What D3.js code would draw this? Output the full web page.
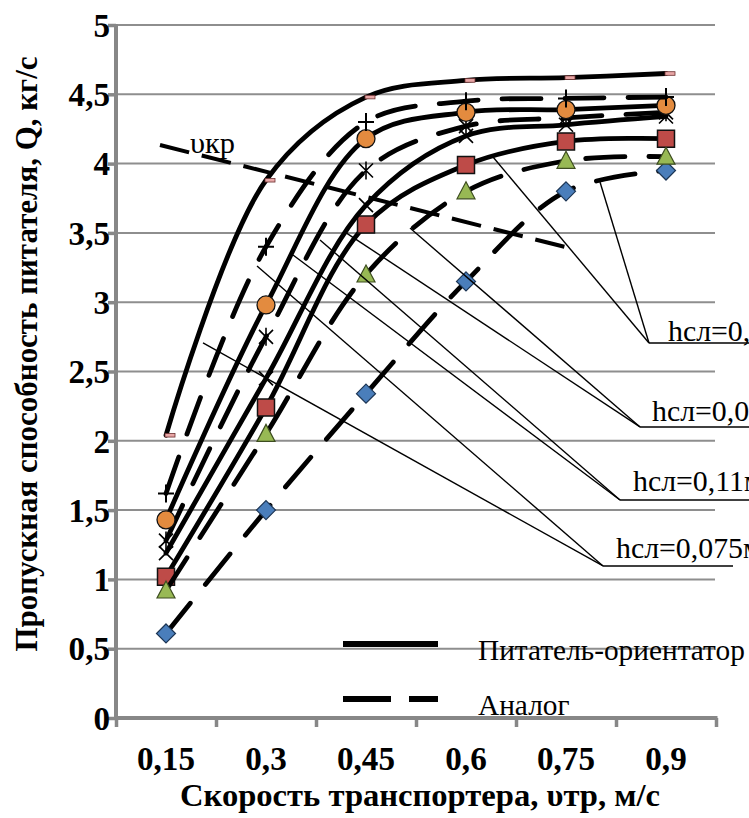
<!DOCTYPE html>
<html><head><meta charset="utf-8">
<script src="https://cdn.jsdelivr.net/npm/d3@7"></script>
<style>
html,body{margin:0;padding:0;background:#fff;overflow:hidden}
svg{display:block}
</style></head><body>
<svg id="chart" width="749" height="818"></svg>
<script>
// ---------- data ----------
const categories = [0.15, 0.3, 0.45, 0.6, 0.75, 0.9];
const categoryLabels = ["0,15", "0,3", "0,45", "0,6", "0,75", "0,9"];
const yTickValues = [0, 0.5, 1, 1.5, 2, 2.5, 3, 3.5, 4, 4.5, 5];
const yTickLabels = ["0", "0,5", "1", "1,5", "2", "2,5", "3", "3,5", "4", "4,5", "5"];

const valuesDiamond  = [0.61, 1.50, 2.34, 3.15, 3.80, 3.95];   // Аналог
const valuesSquare   = [1.02, 2.24, 3.56, 3.99, 4.16, 4.18];   // Питатель-ориентатор
const valuesTriangle = [0.92, 2.05, 3.20, 3.80, 4.02, 4.05];   // Аналог
const valuesCross    = [1.19, 2.45, 3.70, 4.20, 4.28, 4.34];   // Питатель-ориентатор
const valuesStar     = [1.28, 2.75, 3.95, 4.27, 4.33, 4.37];   // Аналог
const valuesCircle   = [1.43, 2.98, 4.18, 4.37, 4.39, 4.42];   // Питатель-ориентатор
const valuesPlus     = [1.62, 3.40, 4.30, 4.45, 4.47, 4.48];   // Аналог
const valuesDash     = [2.04, 3.88, 4.48, 4.60, 4.62, 4.65];   // Питатель-ориентатор

const legendLabels = ["Питатель-ориентатор", "Аналог"];
const xTitle = "Скорость транспортера, υтр, м/с";
const yTitle = "Пропускная способность питателя, Q, кг/с";

// critical speed line (υкр)
const critLabel = "υкр";
const critLineX = [0.141, 0.7605];
const critLineY = [4.134, 3.384];
const critLabelPos = [0.186, 4.076];

// callouts
const calloutTexts = ["hсл=0,15м", "hсл=0,09м", "hсл=0,11м", "hсл=0,075м"];
const calloutAnchorX = [0.8745, 0.861, 0.831, 0.8055];
const calloutAnchorY = [2.706, 2.100, 1.573, 1.097];
const calloutTargets = [
  [[0.6405, 4.048], [0.801, 3.867]],
  [[0.516, 3.535], [0.4185, 3.506]],
  [[0.381, 3.449], [0.3405, 3.341]],
  [[0.2865, 3.261], [0.2055, 2.706]]
];

// ---------- layout ----------
const W = 749, H = 818;
const plotLeft = 116, plotRight = 716, plotTop = 25, plotBottom = 718;
const FONT = '"Liberation Serif", "Times New Roman", Times, "DejaVu Serif", serif';
const calloutDx = [19, 12, 13, 13];
const calloutDy = [-2, -6, -9, -8];
const svg = d3.select("#chart");

// measure helper: font size so that a string reaches a target width
function fitSize(str, weight, targetW) {
  const t = svg.append("text").attr("font-family", FONT).attr("font-size", 100)
    .attr("font-weight", weight).text(str);
  const w = t.node().getComputedTextLength();
  t.remove();
  return w > 0 ? 100 * targetW / w : 30;
}
const tickSize = fitSize("0,45", "bold", 58);
const legendSize = fitSize("Питатель-ориентатор", "normal", 267);
const calloutSize = fitSize("hсл=0,075", "normal", 127);
const critSize = fitSize(critLabel, "normal", 45);

const x = d3.scaleLinear().domain([0.075, 0.975]).range([plotLeft, plotRight]);
const y = d3.scaleLinear().domain([0, 5]).range([plotBottom, plotTop]);

const gridColor = "#8e8e8e", axisColor = "#878787";

// gridlines
svg.append("g").selectAll("line").data(yTickValues.filter(v => v > 0)).join("line")
  .attr("x1", plotLeft).attr("x2", plotRight - 1)
  .attr("y1", d => y(d)).attr("y2", d => y(d))
  .attr("stroke", gridColor).attr("stroke-width", 2);

// y axis
const yAxis = d3.axisLeft(y).tickValues(yTickValues).tickSize(8)
  .tickFormat((d, i) => yTickLabels[i]);
const gy = svg.append("g").attr("transform", `translate(${plotLeft},0)`).call(yAxis);
gy.select(".domain").remove();
gy.selectAll(".tick line").attr("stroke", axisColor).attr("stroke-width", 3.5);
gy.selectAll(".tick text").attr("x", -6).attr("dy", "0.34em")
  .attr("font-family", FONT).attr("font-size", tickSize).attr("font-weight", "bold").attr("fill", "#000");
svg.append("line").attr("x1", plotLeft).attr("x2", plotLeft)
  .attr("y1", plotTop - 1).attr("y2", plotBottom + 1.5)
  .attr("stroke", axisColor).attr("stroke-width", 4);

// x axis: tick marks on category boundaries, labels at categories
const boundaries = d3.range(categories.length + 1).map(i => 0.075 + i * 0.15);
const xAxis = d3.axisBottom(x).tickValues(boundaries).tickSize(9).tickFormat("");
const gx = svg.append("g").attr("transform", `translate(0,${plotBottom})`).call(xAxis);
gx.select(".domain").remove();
gx.selectAll(".tick line").attr("stroke", axisColor).attr("stroke-width", 3.5);
svg.append("line").attr("x1", plotLeft - 2).attr("x2", plotRight + 1.5)
  .attr("y1", plotBottom).attr("y2", plotBottom)
  .attr("stroke", axisColor).attr("stroke-width", 4);
svg.append("g").selectAll("text").data(categories).join("text")
  .attr("x", d => x(d)).attr("y", plotBottom + 52)
  .attr("text-anchor", "middle").attr("font-family", FONT)
  .attr("font-size", tickSize).attr("font-weight", "bold")
  .text((d, i) => categoryLabels[i]);

// axis titles
svg.append("text").attr("x", 420).attr("y", 806).attr("text-anchor", "middle")
  .attr("font-family", FONT).attr("font-size", 31).attr("font-weight", "bold")
  .attr("textLength", 480).attr("lengthAdjust", "spacingAndGlyphs").text(xTitle);
svg.append("text").attr("transform", "translate(37,354) rotate(-90)").attr("text-anchor", "middle")
  .attr("font-family", FONT).attr("font-size", 31).attr("font-weight", "bold")
  .attr("textLength", 595).attr("lengthAdjust", "spacingAndGlyphs").text(yTitle);

// ---------- series ----------
const series = [
  { v: valuesDiamond,  dashed: true,  marker: "diamond" },
  { v: valuesSquare,   dashed: false, marker: "square" },
  { v: valuesTriangle, dashed: true,  marker: "triangle" },
  { v: valuesCross,    dashed: false, marker: "cross" },
  { v: valuesStar,     dashed: true,  marker: "star" },
  { v: valuesCircle,   dashed: false, marker: "circle" },
  { v: valuesPlus,     dashed: true,  marker: "plus" },
  { v: valuesDash,     dashed: false, marker: "dash" }
];

const lineGen = d3.line().x(d => x(d[0])).y(d => y(d[1])).curve(d3.curveCatmullRom.alpha(0.5));
const lineWidth = 4.8;
const dashPattern = "39,24";

function drawMarker(g, type, cx, cy) {
  const t = `translate(${cx},${cy})`;
  if (type === "diamond") g.append("path").attr("transform", t).attr("d", "M0,-9.5L9.5,0L0,9.5L-9.5,0Z")
    .attr("fill", "#4a7ebb").attr("stroke", "#1c3554").attr("stroke-width", 1.2);
  else if (type === "square") g.append("path").attr("transform", t).attr("d", "M-8.5,-8.5H8.5V8.5H-8.5Z")
    .attr("fill", "#be4b48").attr("stroke", "#111").attr("stroke-width", 1.5);
  else if (type === "triangle") g.append("path").attr("transform", t).attr("d", "M0,-9.5L9,7.5L-9,7.5Z")
    .attr("fill", "#98b954").attr("stroke", "#3d4d20").attr("stroke-width", 1.2);
  else if (type === "circle") g.append("circle").attr("cx", cx).attr("cy", cy).attr("r", 9)
    .attr("fill", "#e38b3f").attr("stroke", "#111").attr("stroke-width", 1.3);
  else if (type === "cross") g.append("path").attr("transform", t).attr("d", "M-7,-7L7,7M-7,7L7,-7")
    .attr("fill", "none").attr("stroke", "#000").attr("stroke-width", 1.6);
  else if (type === "star") g.append("path").attr("transform", t).attr("d", "M-7,-7L7,7M-7,7L7,-7M0,-9V9")
    .attr("fill", "none").attr("stroke", "#000").attr("stroke-width", 1.6);
  else if (type === "plus") g.append("path").attr("transform", t).attr("d", "M-8,0H8M0,-9V9")
    .attr("fill", "none").attr("stroke", "#000").attr("stroke-width", 2);
  else if (type === "dash") g.append("rect").attr("x", cx - 1).attr("y", cy - 1.8).attr("width", 10).attr("height", 3.6)
    .attr("fill", "#e8a6a6").attr("stroke", "#6b3030").attr("stroke-width", 0.8);
}

const gSeries = svg.append("g");
series.forEach(s => {
  const pts = categories.map((c, i) => [c, s.v[i]]);
  gSeries.append("path").attr("d", lineGen(pts)).attr("fill", "none")
    .attr("stroke", "#000").attr("stroke-width", lineWidth).attr("stroke-linecap", "round")
    .attr("stroke-dasharray", s.dashed ? dashPattern : null);
  const gm = gSeries.append("g");
  pts.forEach(p => drawMarker(gm, s.marker, x(p[0]), y(p[1])));
});

// critical speed line
svg.append("line")
  .attr("x1", x(critLineX[0])).attr("y1", y(critLineY[0]))
  .attr("x2", x(critLineX[1])).attr("y2", y(critLineY[1]))
  .attr("stroke", "#000").attr("stroke-width", 4).attr("stroke-dasharray", "30,13");
svg.append("text").attr("x", x(critLabelPos[0])).attr("y", y(critLabelPos[1]))
  .attr("font-family", FONT).attr("font-size", critSize).text(critLabel);

// callouts
const gc = svg.append("g");
calloutTexts.forEach((txt, i) => {
  const ax = x(calloutAnchorX[i]), ay = y(calloutAnchorY[i]);
  calloutTargets[i].forEach(tp => {
    gc.append("line").attr("x1", x(tp[0])).attr("y1", y(tp[1])).attr("x2", ax).attr("y2", ay)
      .attr("stroke", "#000").attr("stroke-width", 1.4);
  });
  gc.append("line").attr("x1", ax).attr("y1", ay).attr("x2", i === 3 ? ax + 130 : W + 5).attr("y2", ay)
    .attr("stroke", "#000").attr("stroke-width", 1.6);
  gc.append("text").attr("x", ax + calloutDx[i]).attr("y", ay + calloutDy[i])
    .attr("font-family", FONT).attr("font-size", calloutSize).text(txt);
});

// legend
const legendY = [644, 699];
const gl = svg.append("g");
legendLabels.forEach((lab, i) => {
  gl.append("line").attr("x1", 343).attr("x2", 438).attr("y1", legendY[i]).attr("y2", legendY[i])
    .attr("stroke", "#000").attr("stroke-width", 6)
    .attr("stroke-dasharray", i === 1 ? "48,18" : null);
  gl.append("text").attr("x", 478).attr("y", legendY[i] + 16)
    .attr("font-family", FONT).attr("font-size", legendSize).text(lab);
});
</script>
</body></html>
